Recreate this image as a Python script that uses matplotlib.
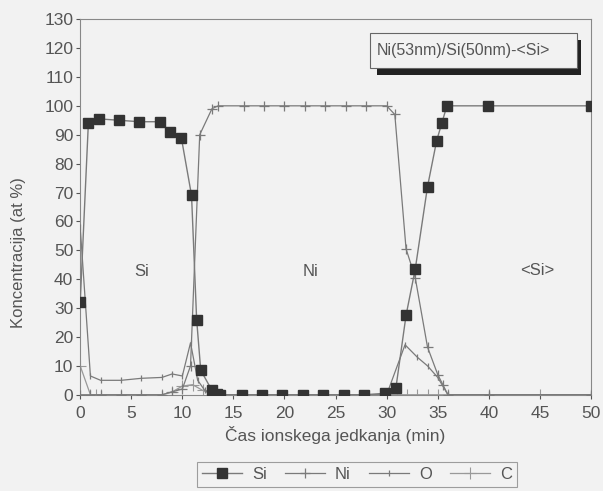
import matplotlib
matplotlib.use('Agg')
import matplotlib.pyplot as plt

plt.rcParams['font.family'] = ['Liberation Sans', 'DejaVu Sans']

# Si profile
si_t = [0, 0.8, 1.8, 3.8, 5.8, 7.8, 8.8, 9.9, 10.9, 11.4, 11.8, 12.9, 13.4, 13.7,
        15.8, 17.8, 19.8, 21.8, 23.8, 25.8, 27.8, 29.8, 30.9, 31.9, 32.8, 34.0,
        34.9, 35.4, 35.9, 39.9, 50]
si_c = [32, 94, 95.5, 95, 94.5, 94.5, 91, 89, 69, 26, 8.5, 1.5, 0.3, 0,
        0, 0, 0, 0, 0, 0, 0, 0.5, 2.2, 27.5, 43.5, 72, 88, 94, 100, 100, 100]

# Ni profile
ni_t = [0, 1, 2, 4, 6, 8, 9, 10, 10.8, 11.7, 12.9, 13.5, 16, 18, 20, 22, 24, 26,
        28, 30, 30.8, 31.9, 32.8, 34.0, 35.0, 35.5, 36, 40, 50]
ni_c = [0, 0, 0, 0, 0, 0, 1, 2, 10, 90, 99, 100, 100, 100, 100, 100, 100, 100,
        100, 100, 97, 50.5, 40.5, 16.5, 7, 3.5, 0, 0, 0]

# O profile
o_t = [0, 1, 2, 4, 6, 8, 9, 10, 10.8, 11.5, 12.2, 13, 16, 20, 24, 28, 30, 31.8,
       33, 34, 35, 36, 40, 50]
o_c = [58, 6.5, 5, 5, 5.7, 6, 7.2, 6.5, 18, 5, 1.5, 0, 0, 0, 0, 0, 0, 17.3,
       13, 10, 6, 0, 0, 0]

# C profile
c_t = [0, 1, 1.5, 2, 4, 6, 8, 9, 10, 11, 12, 13, 30, 31, 32, 33, 34, 35, 36,
       40, 45, 50]
c_c = [10, 0, 0, 0, 0, 0, 0, 1, 3, 3.5, 1.5, 0, 0, 0, 0, 0, 0, 0, 0, 0, 0, 0]

x_ticks = [0, 5, 10, 15, 20, 25, 30, 35, 40, 45, 50]
y_ticks = list(range(0, 131, 10))

bg = '#f2f2f2'
txt = '#555555'
ln = '#7a7a7a'

fig = plt.figure(figsize=(6.03, 4.91), dpi=100, facecolor=bg)
ax = fig.add_axes([0.133, 0.196, 0.847, 0.765], facecolor=bg)

ax.plot(si_t, si_c, color=ln, lw=1.0, marker='s', ms=6.5, mfc='#333333',
        mec='#333333', label='Si', zorder=4)
ax.plot(ni_t, ni_c, color=ln, lw=0.9, marker='+', ms=7, mew=0.9,
        label='Ni', zorder=3)
ax.plot(o_t, o_c, color=ln, lw=0.9, marker='|', ms=4, mew=0.9,
        label='O', zorder=3)
ax.plot(c_t, c_c, color='#999999', lw=0.9, marker='+', ms=8, mew=0.8,
        label='C', zorder=2)

ax.set_xlim(0, 50)
ax.set_ylim(0, 130)
ax.set_xticks(x_ticks)
ax.set_yticks(y_ticks)
ax.tick_params(colors=txt, labelsize=12.5, length=3, width=0.8)
ax.tick_params(axis='x', pad=5)
ax.tick_params(axis='y', pad=2)
for s in ax.spines.values():
    s.set_color('#888888')
    s.set_linewidth(0.8)

ax.set_xlabel('Čas ionskega jedkanja (min)', fontsize=12.5, color=txt, labelpad=4)
ax.set_ylabel('Koncentracija (at %)', fontsize=12, color=txt)
ax.yaxis.set_label_coords(-0.106, 0.378)

ax.text(6, 42.5, 'Si', fontsize=12, color=txt, ha='center', va='center')
ax.text(22.5, 42.5, 'Ni', fontsize=12, color=txt, ha='center', va='center')
ax.text(44.7, 43, '<Si>', fontsize=12, color=txt, ha='center', va='center')

# title box with shadow
ax.add_patch(plt.Rectangle((29.1, 110.7), 19.9, 12.1, fc='#222222', ec='none',
                           zorder=5))
ax.add_patch(plt.Rectangle((28.4, 113.1), 20.2, 12.2, fc=bg, ec='#666666',
                           lw=0.8, zorder=6))
ax.text(29.0, 119.2, 'Ni(53nm)/Si(50nm)-<Si>', fontsize=11.5, color=txt,
        ha='left', va='center', zorder=7)

leg = ax.legend(loc='upper center', bbox_to_anchor=(357 / 603, 0.077),
                bbox_transform=fig.transFigure, ncol=4,
                fontsize=12, frameon=True, fancybox=False, edgecolor='#888888',
                facecolor=bg, handlelength=2.4, columnspacing=1.1,
                handletextpad=0.6, borderpad=0.3)
leg.get_frame().set_linewidth(0.8)
for t in leg.get_texts():
    t.set_color(txt)

fig.savefig('out.png', dpi=100, facecolor=bg)
